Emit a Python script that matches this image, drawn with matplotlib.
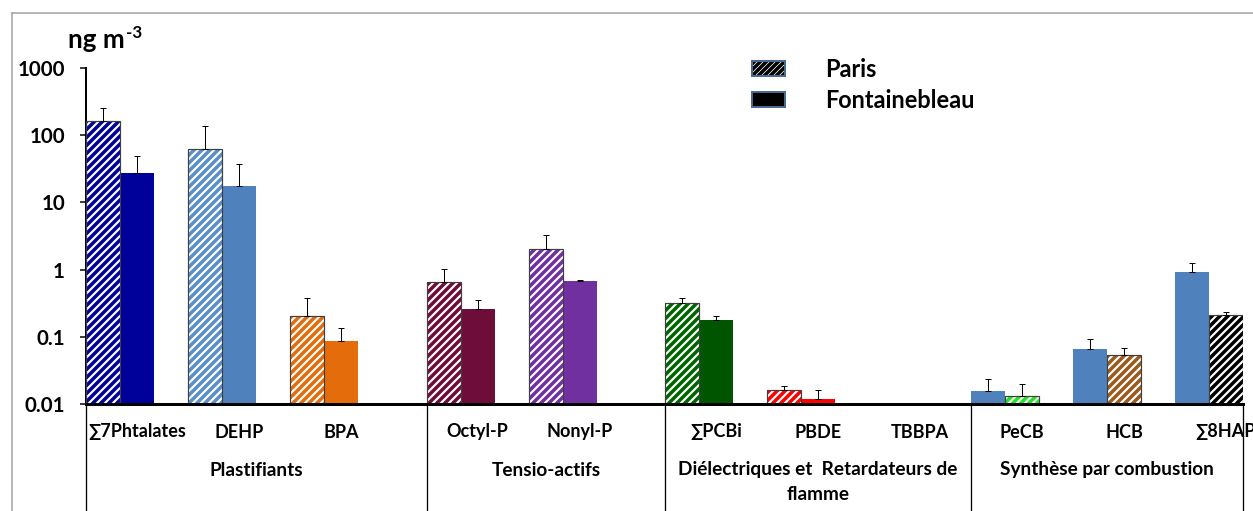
import numpy as np
import matplotlib
matplotlib.use("Agg")
import matplotlib.pyplot as plt
from matplotlib.lines import Line2D
from matplotlib.patches import Patch
from matplotlib.legend_handler import HandlerTuple
import matplotlib.transforms as mtransforms

plt.rcParams['font.family'] = ['Lato', 'DejaVu Sans']
plt.rcParams['font.weight'] = 'bold'
plt.rcParams['hatch.linewidth'] = 3.5

# ---------------- data ----------------
categories = ['∑7Phtalates', 'DEHP', 'BPA', 'Octyl-P', 'Nonyl-P',
              '∑PCBi', 'PBDE', 'TBBPA', 'PeCB', 'HCB', '∑8HAP']
groups = ['Plastifiants', 'Tensio-actifs',
          'Diélectriques et  Retardateurs de\nflamme', 'Synthèse par combustion']
group_sizes = [3, 2, 3, 3]

paris = [165, 62.8, 0.207, 0.647, 2.05, 0.323, 0.016, np.nan, 0.013, 0.053, 0.214]
paris_err_top = [255, 138, 0.375, 1.03, 3.24, 0.375, 0.0186, np.nan, 0.0196, 0.067, 0.234]
fontainebleau = [27.6, 17.7, 0.088, 0.263, 0.687, 0.178, 0.0117, np.nan, 0.0156, 0.0655, 0.934]
fontainebleau_err_top = [49.4, 37, 0.134, 0.35, 0.71, 0.207, 0.016, np.nan, 0.0237, 0.093, 1.24]

yticks = [0.01, 0.1, 1, 10, 100, 1000]
ytick_labels = ['0.01', '0.1', '1', '10', '100', '1000']

# ---------------- styles ----------------
paris_colors = ['#00009A', '#5B8FC9', '#E46C0A', '#6E0C3A', '#7030A0',
                '#006400', '#FF0000', '#000000', '#1EE61E', '#9A5B1E', '#000000']
font_colors = ['#00009A', '#4F81BD', '#E46C0A', '#6E0C3A', '#7030A0',
               '#005500', '#FF0000', '#000000', '#4F81BD', '#4F81BD', '#4F81BD']
paris_first = [True] * 8 + [False] * 3
group_gap_after = [0.34, 0.34, 0.0, 0.0]

# slot positions (1 slot = one category)
slot_left = []
group_bounds = []
pos = 0.0
for gs, gap in zip(group_sizes, group_gap_after):
    start = pos
    for k in range(gs):
        slot_left.append(pos)
        pos += 1.0
    end = pos + gap
    group_bounds.append((start, end))
    pos = end
slot_left = np.array(slot_left)
xmax = slot_left[-1] + 2.0 / 3.0
group_bounds[-1] = (group_bounds[-1][0], xmax)

W, H = 1253, 511
fig = plt.figure(figsize=(W / 72, H / 72), dpi=72)
ax = fig.add_axes([86 / W, 1 - 404 / H, (1243 - 86) / W, 336 / H])
ax.set_yscale('log')
ax.set_ylim(0.01, 1000)
ax.set_xlim(0, xmax)

bw = 1.0 / 3.0
for i in range(len(categories)):
    if np.isnan(paris[i]):
        continue
    xp = slot_left[i] + (bw / 2 if paris_first[i] else 1.5 * bw)
    xf = slot_left[i] + (1.5 * bw if paris_first[i] else bw / 2)
    # Paris: hatched
    ax.bar(xp, paris[i] - 0.001, bottom=0.001, width=bw, color='white',
           hatch='///', edgecolor=paris_colors[i], linewidth=0, zorder=2)
    ax.bar(xp, paris[i] - 0.001, bottom=0.001, width=bw, fill=False,
           edgecolor='#404040', linewidth=1.2, zorder=3)
    # Fontainebleau: solid
    ax.bar(xf, fontainebleau[i] - 0.001, bottom=0.001, width=bw,
           color=font_colors[i], linewidth=0, zorder=2)
    ax.errorbar([xp], [paris[i]], yerr=[[0], [paris_err_top[i] - paris[i]]],
                fmt='none', ecolor='black', elinewidth=1, capsize=3, capthick=1, zorder=4)
    ax.errorbar([xf], [fontainebleau[i]],
                yerr=[[0], [fontainebleau_err_top[i] - fontainebleau[i]]],
                fmt='none', ecolor='black', elinewidth=1, capsize=3, capthick=1, zorder=4)

# axes styling
for s in ['top', 'right']:
    ax.spines[s].set_visible(False)
ax.spines['left'].set_linewidth(2)
ax.spines['bottom'].set_linewidth(3)
ax.spines['bottom'].set_zorder(5)
ax.set_yticks(yticks)
ax.set_yticklabels(ytick_labels)
ax.yaxis.set_minor_locator(matplotlib.ticker.NullLocator())
ax.tick_params(axis='y', length=6, width=1.5, pad=15, labelsize=20.5)
ax.set_xticks([])

trans = mtransforms.blended_transform_factory(ax.transData, ax.transAxes)
# category labels
for i, c in enumerate(categories):
    ax.text(slot_left[i] + 0.5, -28 / 336, c, transform=trans, ha='center',
            va='center', fontsize=18, fontweight='bold')
# group labels and separators
for (g0, g1), g in zip(group_bounds, groups):
    for k, line in enumerate(g.split('\n')):
        ax.text((g0 + g1) / 2, -(66 + 25 * k) / 336, line, transform=trans,
                ha='center', va='center', fontsize=19, fontweight='bold')
seps = [b[0] for b in group_bounds] + [xmax]
for s in seps:
    ax.add_line(Line2D([s, s], [0, -110 / 336], transform=trans, color='black',
                       linewidth=1.3, clip_on=False))

# y unit label
t1 = fig.text(68 / W, 1 - 48 / H, 'ng m', fontsize=26, fontweight='bold',
              ha='left', va='baseline')
ax.annotate('-3', xy=(1.0, 1.0), xycoords=t1, xytext=(1, 3),
            textcoords='offset points', fontsize=17, fontweight='bold',
            ha='left', va='top', annotation_clip=False)

# legend
h_paris = (Patch(facecolor='white', edgecolor='#000000', hatch='////', linewidth=0),
           Patch(fill=False, edgecolor='#4A6A90', linewidth=2))
h_font = Patch(facecolor='black', edgecolor='#4A6A90', linewidth=2)
leg = fig.legend([h_paris, h_font], ['Paris', 'Fontainebleau'], loc='upper left',
                 handler_map={tuple: HandlerTuple(ndivide=1)},
                 bbox_to_anchor=(752 / W, 1 - 58 / H), frameon=False,
                 prop={'weight': 'bold', 'size': 23.5}, handlelength=1.4,
                 handleheight=0.6, handletextpad=1.7, labelspacing=0.35,
                 borderpad=0, borderaxespad=0)

# figure border (grey)
fig.add_artist(Line2D([12 / W, 12 / W], [0, 1 - 13 / H], color='#A0A0A0',
                      linewidth=1.5, transform=fig.transFigure))
fig.add_artist(Line2D([12 / W, 1], [1 - 13 / H, 1 - 13 / H], color='#A0A0A0',
                      linewidth=1.5, transform=fig.transFigure))

fig.savefig('out.png', dpi=72)
